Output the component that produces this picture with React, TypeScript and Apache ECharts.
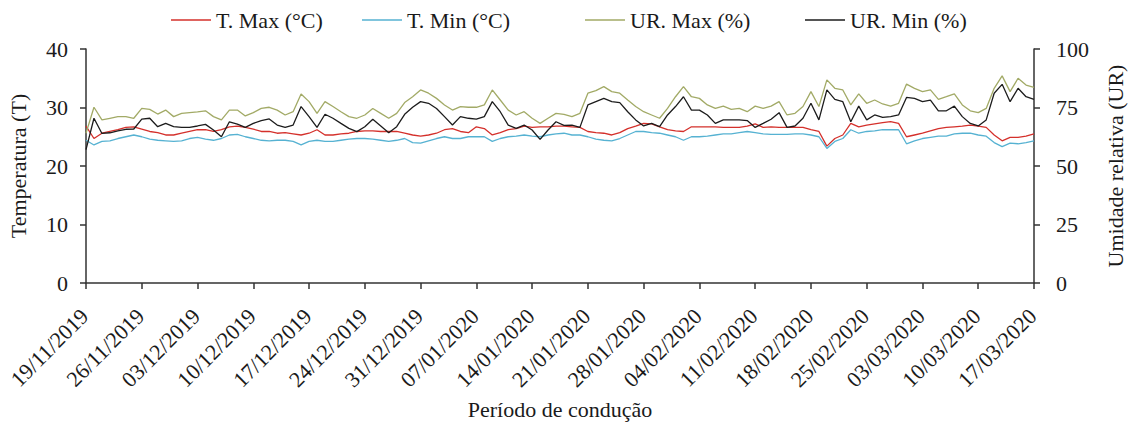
import React, { useEffect, useRef } from "react";
import * as echarts from "echarts";

const START_DATE = [2019, 11, 19];
const DAY_COUNT = 120;

const tMax = [
  26.8, 24.7, 25.6, 25.9, 26.2, 26.6, 26.7, 26.3, 25.9, 25.7,
  25.3, 25.3, 25.6, 25.9, 26.2, 26.2, 25.9, 26.2, 26.7, 26.8,
  26.6, 26.3, 25.9, 25.9, 25.6, 25.7, 25.5, 25.3, 25.6, 26.2,
  25.3, 25.3, 25.5, 25.6, 25.9, 26.0, 26.0, 25.9, 25.9, 25.9,
  25.6, 25.3, 25.1, 25.3, 25.6, 26.2, 26.4, 25.9, 25.7, 26.7,
  26.4, 25.3, 25.7, 26.2, 26.4, 26.8, 26.6, 26.7, 26.7, 26.8,
  26.8, 26.7, 26.6, 25.9, 25.7, 25.6, 25.3, 25.7, 26.4, 26.8,
  27.3, 27.2, 26.7, 26.2, 26.0, 25.9, 26.7, 26.7, 26.7, 26.7,
  26.6, 26.6, 26.6, 26.8, 27.2, 26.6, 26.7, 26.6, 26.6, 26.6,
  26.6, 26.2, 25.9, 23.4, 24.7, 25.3, 27.3, 26.7, 27.0, 27.2,
  27.4, 27.6, 27.3, 25.0, 25.3, 25.6, 26.0, 26.4, 26.6, 26.7,
  26.8, 27.0, 26.8, 26.6, 25.3, 24.3, 24.9, 24.9, 25.1, 25.5,
];

const tMin = [
  24.4, 23.6, 24.2, 24.3, 24.7, 25.0, 25.3, 25.0, 24.6, 24.4,
  24.3, 24.2, 24.3, 24.7, 24.9, 24.6, 24.4, 24.7, 25.3, 25.4,
  25.0, 24.7, 24.4, 24.3, 24.4, 24.4, 24.2, 23.6, 24.2, 24.4,
  24.2, 24.2, 24.4, 24.6, 24.7, 24.7, 24.6, 24.4, 24.2, 24.4,
  24.7, 24.0, 23.9, 24.3, 24.7, 25.0, 24.7, 24.7, 25.0, 25.0,
  25.0, 24.2, 24.7, 25.0, 25.1, 25.3, 25.1, 25.0, 25.3, 25.5,
  25.6, 25.3, 25.3, 25.0, 24.6, 24.4, 24.3, 24.7, 25.3, 25.9,
  25.9, 25.7, 25.6, 25.3, 25.0, 24.4, 25.0, 25.0, 25.1, 25.3,
  25.5, 25.5, 25.7, 25.9, 25.7, 25.5, 25.4, 25.4, 25.4, 25.5,
  25.5, 25.3, 25.0, 23.0, 24.2, 24.7, 26.2, 25.6, 25.9, 26.0,
  26.2, 26.2, 26.2, 23.8, 24.3, 24.7, 24.9, 25.1, 25.1, 25.5,
  25.6, 25.6, 25.3, 25.1, 24.0, 23.3, 23.9, 23.8, 24.0, 24.3,
];

const urMax = [
  64.0, 75.1, 69.7, 70.4, 71.1, 71.1, 70.4, 74.6, 74.2, 72.2,
  73.9, 71.1, 72.5, 72.8, 73.1, 73.6, 71.1, 69.7, 73.9, 73.9,
  71.4, 72.8, 74.6, 75.1, 73.9, 71.8, 73.2, 80.8, 77.5, 72.5,
  77.5, 75.4, 73.2, 71.1, 70.4, 71.8, 74.6, 72.5, 70.4, 72.5,
  77.1, 79.6, 82.5, 81.1, 78.9, 76.1, 73.9, 75.4, 75.1, 75.1,
  76.1, 82.5, 78.2, 73.9, 71.8, 73.2, 70.4, 68.2, 70.4, 72.5,
  72.1, 71.1, 72.5, 81.1, 82.2, 83.9, 81.8, 81.1, 78.2, 75.4,
  73.2, 71.8, 70.4, 74.6, 79.6, 83.9, 79.6, 78.9, 76.1, 74.6,
  75.6, 74.2, 74.6, 73.2, 75.6, 74.6, 75.6, 77.5, 71.8, 72.5,
  75.4, 81.8, 75.4, 86.8, 83.2, 82.5, 76.1, 80.8, 76.8, 78.2,
  76.5, 75.6, 76.8, 85.0, 83.2, 81.8, 82.5, 78.5, 79.6, 80.8,
  76.1, 73.6, 72.8, 74.6, 83.2, 88.5, 81.8, 87.5, 84.6, 83.6,
];

const urMin = [
  57.0, 70.4, 63.9, 64.2, 65.0, 65.7, 65.8, 70.0, 70.4, 66.8,
  68.2, 66.8, 66.5, 66.5, 67.1, 67.8, 65.4, 62.5, 68.9, 67.9,
  66.5, 68.2, 69.4, 70.1, 67.5, 66.5, 67.5, 75.4, 71.1, 66.5,
  72.1, 70.4, 68.2, 66.1, 64.7, 66.8, 70.0, 67.1, 64.2, 66.8,
  72.1, 75.1, 77.5, 76.8, 74.6, 71.1, 67.5, 71.1, 70.4, 70.0,
  71.1, 77.5, 73.2, 67.5, 66.1, 67.5, 65.4, 61.4, 65.4, 68.9,
  67.4, 67.5, 66.5, 76.1, 77.5, 78.9, 77.5, 77.1, 73.2, 69.7,
  67.1, 68.2, 66.8, 71.8, 75.4, 79.6, 73.9, 73.9, 71.8, 68.2,
  69.7, 69.7, 69.7, 69.4, 66.5, 68.2, 70.0, 72.8, 66.5, 67.1,
  70.4, 76.8, 69.7, 82.5, 78.5, 77.5, 68.9, 75.6, 69.7, 71.8,
  70.8, 71.1, 71.8, 79.3, 78.9, 77.5, 78.2, 73.6, 73.6, 75.6,
  71.1, 68.2, 67.1, 69.7, 81.1, 84.9, 77.5, 83.2, 79.6, 78.5,
];

const seriesNames = ["T. Max (°C)", "T. Min (°C)", "UR. Max (%)", "UR. Min (%)"];
const seriesColors = ["#d4302b", "#56b2d2", "#a2aa66", "#1c1c1c"];
const tempTicks = [0, 40, 10];
const urTicks = [0, 100, 25];

function buildDates(): string[] {
  const out: string[] = [];
  const base = Date.UTC(START_DATE[0], START_DATE[1] - 1, START_DATE[2]);
  for (let i = 0; i < DAY_COUNT; i++) {
    const d = new Date(base + i * 86400000);
    const dd = String(d.getUTCDate()).padStart(2, "0");
    const mm = String(d.getUTCMonth() + 1).padStart(2, "0");
    out.push(`${dd}/${mm}/${d.getUTCFullYear()}`);
  }
  return out;
}

const FONT = "'Liberation Serif', 'Times New Roman', Times, serif";

export default function App() {
  const ref = useRef<HTMLDivElement>(null);
  useEffect(() => {
    if (!ref.current) return;
    const chart = echarts.init(ref.current, null, { renderer: "svg" });
    const dates = buildDates();
    const textStyle = { fontFamily: FONT, fontSize: 22, color: "#1a1a1a" };
    const axisLine = { show: true, lineStyle: { color: "#333", width: 1.5 } };
    const legendLefts = [166, 357, 580, 800];
    const datas = [tMax, tMin, urMax, urMin];
    chart.setOption({
      animation: false,
      backgroundColor: "#ffffff",
      textStyle: { fontFamily: FONT },
      legend: seriesNames.map((n, i) => ({
        data: [n],
        left: legendLefts[i],
        top: 4,
        icon: "rect",
        itemWidth: 40,
        itemHeight: 1.5,
        textStyle: { ...textStyle },
      })),
      grid: { left: 86, right: 94, top: 49, bottom: 140, containLabel: false, outerBoundsMode: "none" },
      xAxis: {
        type: "category",
        data: dates,
        boundaryGap: false,
        axisLine,
        axisTick: { show: true, interval: 6, length: 6, lineStyle: { color: "#333", width: 1.5 } },
        axisLabel: {
          interval: 6,
          rotate: 45,
          margin: 28,
          padding: [0, 2, 0, 0],
          ...textStyle,
        },
        name: "Período de condução",
        nameLocation: "middle",
        nameGap: 114,
        nameTextStyle: { ...textStyle },
        splitLine: { show: false },
      },
      yAxis: [
        {
          type: "value",
          min: tempTicks[0],
          max: tempTicks[1],
          interval: tempTicks[2],
          position: "left",
          axisLine,
          axisTick: { show: true, length: 6, lineStyle: { color: "#333", width: 1.5 } },
          axisLabel: { margin: 18, ...textStyle },
          splitLine: { show: false },
          name: "Temperatura (T)",
          nameLocation: "middle",
          nameGap: 57,
          nameTextStyle: { ...textStyle },
        },
        {
          type: "value",
          min: urTicks[0],
          max: urTicks[1],
          interval: urTicks[2],
          position: "right",
          axisLine,
          axisTick: { show: true, length: 6, lineStyle: { color: "#333", width: 1.5 } },
          axisLabel: { margin: 22, ...textStyle },
          splitLine: { show: false },
          name: "Umidade relativa (UR)",
          nameLocation: "middle",
          nameGap: 70,
          nameTextStyle: { ...textStyle },
        },
      ],
      series: seriesNames.map((n, i) => ({
        name: n,
        type: "line",
        yAxisIndex: i < 2 ? 0 : 1,
        data: datas[i],
        showSymbol: false,
        symbol: "none",
        lineStyle: { color: seriesColors[i], width: 1.3 },
        itemStyle: { color: seriesColors[i] },
        z: i === 3 ? 5 : 3,
      })),
    });
    return () => chart.dispose();
  }, []);
  return (
    <div
      ref={ref}
      style={{ position: "fixed", left: 0, top: 0, width: 1128, height: 423, background: "#fff" }}
    />
  );
}
